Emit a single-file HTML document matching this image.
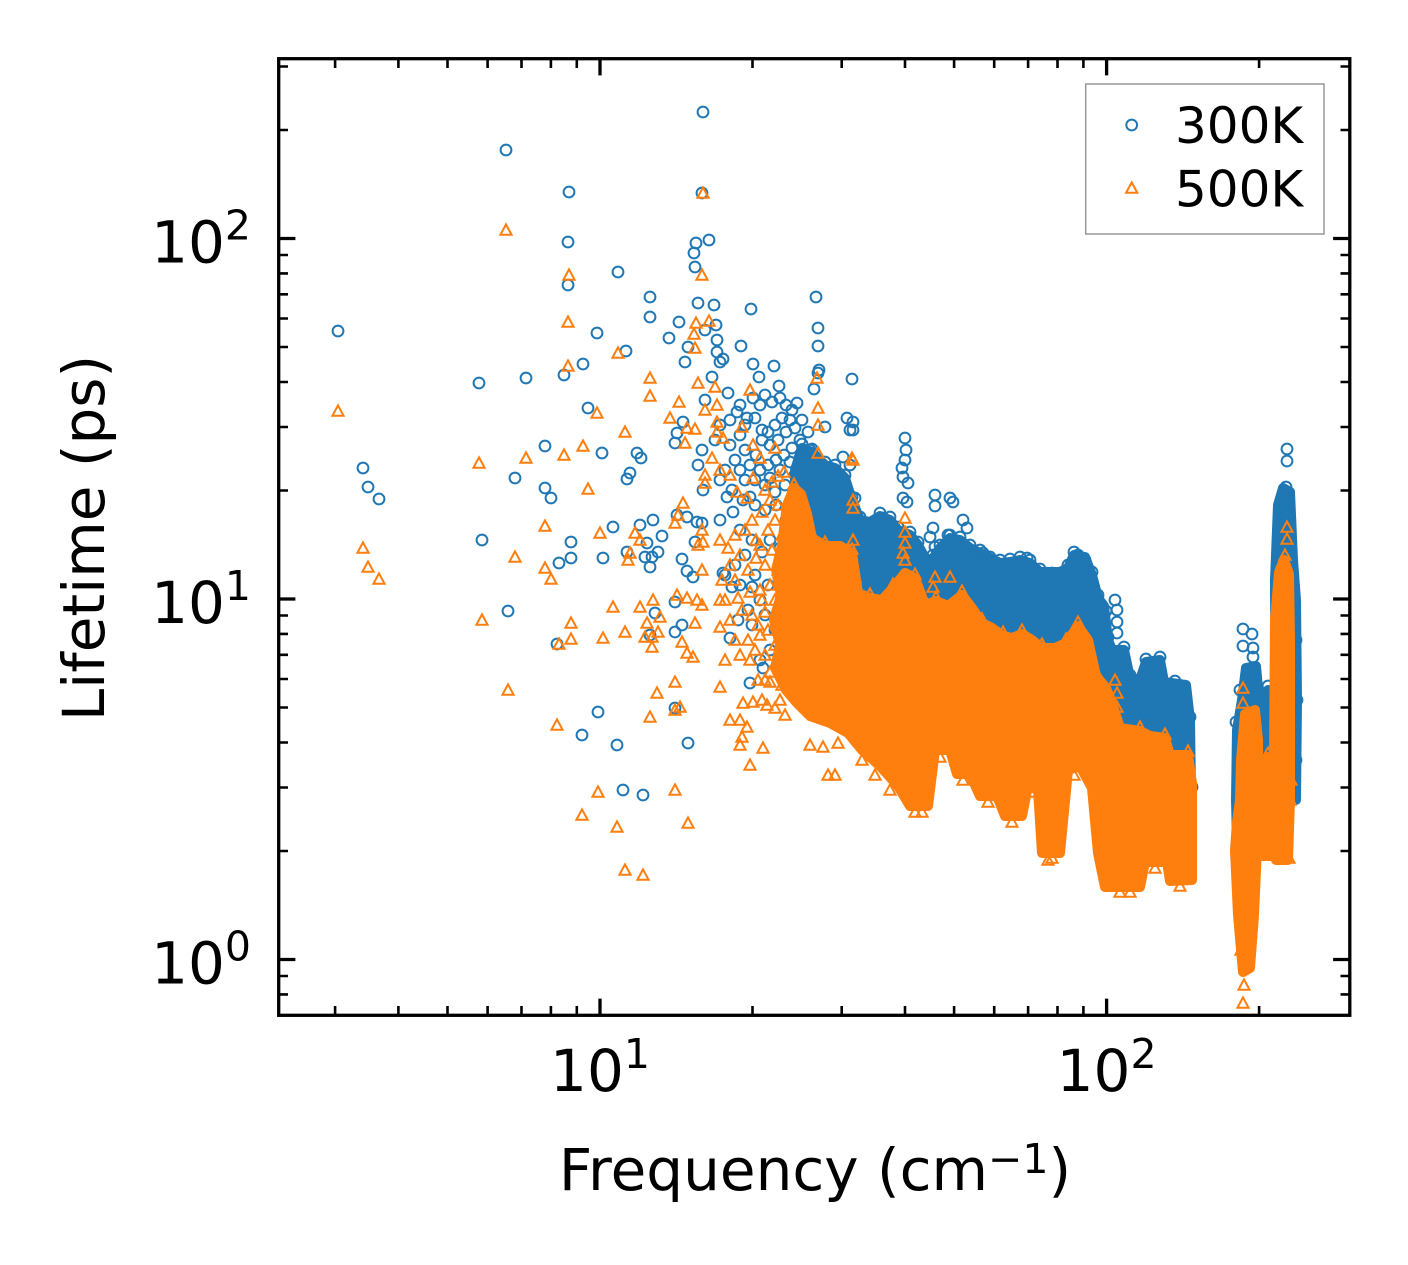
<!DOCTYPE html>
<html><head><meta charset="utf-8">
<style>html,body{margin:0;padding:0;background:#fff;}svg{display:block;}</style>
</head>
<body>
<svg width="1408" height="1265" viewBox="0 0 1408 1265" xmlns="http://www.w3.org/2000/svg" font-family="'DejaVu Sans','Liberation Sans',sans-serif">
<defs>
<clipPath id="clip"><rect x="278.7" y="58.7" width="1071.1" height="956.6"/></clipPath>
<circle id="o" r="5.4" fill="none" stroke="#1f77b4" stroke-width="2"/>
<path id="t" d="M0,-5.6L5.6,4.8H-5.6Z" fill="none" stroke="#ff7f0e" stroke-width="2"/>
</defs>
<rect width="1408" height="1265" fill="#fff"/>

<g clip-path="url(#clip)">
<!-- ===== 300K (blue) ===== -->
<g fill="#1f77b4" stroke="#1f77b4" stroke-width="10" stroke-linejoin="round">
<polygon points="795,470 802,448 812,452 825,465 835,468 845,478 852,500 860,520 870,522 880,516 890,520 898,530 910,535 918,545 925,558 932,560 940,548 950,538 960,540 970,548 980,553 990,558 1000,563 1010,562 1020,560 1030,563 1040,572 1050,572 1060,572 1068,568 1074,555 1085,557 1092,575 1098,598 1104,606 1108,640 1112,650 1124,650 1130,678 1140,680 1146,662 1160,660 1164,682 1186,685 1190,720 1191,790 1188,800 1172,790 1165,783 1150,780 1140,785 1130,786 1118,775 1100,760 1090,740 1070,700 1050,700 1030,690 1000,680 970,660 940,650 910,640 880,640 860,630 840,620 820,600 805,580 795,540"/>
<polygon points="1236,800 1237,730 1242,700 1246,668 1256,666 1259,700 1259,840 1237,840"/>
<polygon points="1263,700 1268,690 1273,692 1274,850 1263,850"/>
<polygon points="1275,580 1278,505 1283,488 1290,492 1293,560 1296,600 1297,700 1296,800 1276,800"/>
</g>
<g>
<use href="#o" x="338" y="331"/><use href="#o" x="363" y="468"/><use href="#o" x="368" y="487"/><use href="#o" x="379" y="499"/>
<use href="#o" x="479" y="383"/><use href="#o" x="482" y="540"/><use href="#o" x="506" y="150"/><use href="#o" x="508" y="611"/>
<use href="#o" x="515" y="478"/><use href="#o" x="526" y="378"/><use href="#o" x="545" y="446"/><use href="#o" x="545" y="488"/>
<use href="#o" x="551" y="498"/><use href="#o" x="557" y="644"/><use href="#o" x="559" y="563"/><use href="#o" x="564" y="375"/>
<use href="#o" x="571" y="542"/><use href="#o" x="571" y="558"/><use href="#o" x="582" y="735"/><use href="#o" x="583" y="364"/>
<use href="#o" x="588" y="408"/><use href="#o" x="602" y="453"/><use href="#o" x="603" y="558"/><use href="#o" x="569" y="192"/>
<use href="#o" x="568" y="242"/><use href="#o" x="568" y="285"/><use href="#o" x="597" y="333"/><use href="#o" x="618" y="272"/>
<use href="#o" x="626" y="351"/><use href="#o" x="650" y="297"/><use href="#o" x="650" y="317"/><use href="#o" x="669" y="338"/>
<use href="#o" x="679" y="322"/><use href="#o" x="685" y="362"/><use href="#o" x="688" y="347"/><use href="#o" x="694" y="253"/>
<use href="#o" x="695" y="267"/><use href="#o" x="696" y="243"/><use href="#o" x="698" y="303"/><use href="#o" x="702" y="193"/>
<use href="#o" x="703" y="112"/><use href="#o" x="705" y="330"/><use href="#o" x="709" y="240"/><use href="#o" x="714" y="305"/>
<use href="#o" x="716" y="325"/><use href="#o" x="717" y="340"/><use href="#o" x="717" y="352"/><use href="#o" x="720" y="362"/>
<use href="#o" x="723" y="359"/><use href="#o" x="741" y="346"/><use href="#o" x="751" y="309"/><use href="#o" x="753" y="364"/>
<use href="#o" x="774" y="366"/><use href="#o" x="816" y="297"/><use href="#o" x="818" y="328"/><use href="#o" x="818" y="346"/>
<use href="#o" x="819" y="370"/><use href="#o" x="759" y="377"/><use href="#o" x="779" y="386"/><use href="#o" x="818" y="373"/>
<use href="#o" x="814" y="389"/><use href="#o" x="852" y="379"/><use href="#o" x="712" y="377"/><use href="#o" x="728" y="393"/>
<use href="#o" x="705" y="400"/><use href="#o" x="737" y="412"/><use href="#o" x="747" y="418"/><use href="#o" x="753" y="398"/>
<use href="#o" x="772" y="402"/><use href="#o" x="677" y="433"/><use href="#o" x="675" y="443"/><use href="#o" x="683" y="422"/>
<use href="#o" x="762" y="430"/><use href="#o" x="637" y="453"/><use href="#o" x="641" y="458"/><use href="#o" x="630" y="473"/>
<use href="#o" x="627" y="479"/><use href="#o" x="702" y="450"/><use href="#o" x="698" y="465"/><use href="#o" x="703" y="490"/>
<use href="#o" x="727" y="497"/><use href="#o" x="750" y="497"/><use href="#o" x="825" y="427"/><use href="#o" x="847" y="418"/>
<use href="#o" x="853" y="422"/><use href="#o" x="850" y="430"/><use href="#o" x="843" y="457"/><use href="#o" x="613" y="527"/>
<use href="#o" x="640" y="525"/><use href="#o" x="653" y="520"/><use href="#o" x="662" y="536"/><use href="#o" x="627" y="552"/>
<use href="#o" x="647" y="543"/><use href="#o" x="645" y="557"/><use href="#o" x="652" y="557"/><use href="#o" x="658" y="552"/>
<use href="#o" x="650" y="567"/><use href="#o" x="677" y="515"/><use href="#o" x="687" y="517"/><use href="#o" x="697" y="522"/>
<use href="#o" x="702" y="523"/><use href="#o" x="720" y="520"/><use href="#o" x="733" y="512"/><use href="#o" x="682" y="559"/>
<use href="#o" x="687" y="571"/><use href="#o" x="693" y="577"/><use href="#o" x="695" y="542"/><use href="#o" x="723" y="573"/>
<use href="#o" x="732" y="587"/><use href="#o" x="752" y="587"/><use href="#o" x="655" y="613"/><use href="#o" x="675" y="602"/>
<use href="#o" x="682" y="625"/><use href="#o" x="675" y="632"/><use href="#o" x="650" y="635"/><use href="#o" x="730" y="638"/>
<use href="#o" x="763" y="668"/><use href="#o" x="750" y="683"/><use href="#o" x="598" y="712"/><use href="#o" x="675" y="708"/>
<use href="#o" x="617" y="745"/><use href="#o" x="688" y="743"/><use href="#o" x="623" y="790"/><use href="#o" x="643" y="795"/>
<!-- cluster around 720-813 -->
<use href="#o" x="765" y="395"/><use href="#o" x="780" y="398"/><use href="#o" x="786" y="405"/><use href="#o" x="792" y="410"/>
<use href="#o" x="797" y="403"/><use href="#o" x="790" y="420"/><use href="#o" x="782" y="418"/><use href="#o" x="775" y="425"/>
<use href="#o" x="768" y="432"/><use href="#o" x="762" y="440"/><use href="#o" x="770" y="445"/><use href="#o" x="778" y="440"/>
<use href="#o" x="786" y="432"/><use href="#o" x="795" y="428"/><use href="#o" x="802" y="420"/><use href="#o" x="808" y="432"/>
<use href="#o" x="800" y="440"/><use href="#o" x="792" y="448"/><use href="#o" x="784" y="455"/><use href="#o" x="776" y="460"/>
<use href="#o" x="768" y="465"/><use href="#o" x="760" y="470"/><use href="#o" x="770" y="478"/><use href="#o" x="780" y="470"/>
<use href="#o" x="790" y="462"/><use href="#o" x="800" y="458"/><use href="#o" x="810" y="450"/><use href="#o" x="805" y="470"/>
<use href="#o" x="795" y="475"/><use href="#o" x="785" y="485"/><use href="#o" x="775" y="492"/><use href="#o" x="765" y="485"/>
<use href="#o" x="756" y="455"/><use href="#o" x="750" y="465"/><use href="#o" x="745" y="450"/><use href="#o" x="755" y="480"/>
<use href="#o" x="745" y="480"/><use href="#o" x="740" y="470"/><use href="#o" x="735" y="460"/><use href="#o" x="730" y="445"/>
<use href="#o" x="740" y="435"/><use href="#o" x="725" y="470"/><use href="#o" x="720" y="480"/><use href="#o" x="732" y="490"/>
<use href="#o" x="743" y="500"/><use href="#o" x="755" y="505"/><use href="#o" x="765" y="510"/><use href="#o" x="715" y="440"/>
<use href="#o" x="720" y="425"/><use href="#o" x="730" y="420"/><use href="#o" x="745" y="425"/><use href="#o" x="755" y="418"/>
<use href="#o" x="740" y="405"/><use href="#o" x="760" y="405"/><use href="#o" x="740" y="530"/><use href="#o" x="752" y="540"/>
<use href="#o" x="762" y="552"/><use href="#o" x="770" y="540"/><use href="#o" x="745" y="555"/><use href="#o" x="735" y="565"/>
<use href="#o" x="725" y="575"/><use href="#o" x="740" y="585"/><use href="#o" x="755" y="575"/><use href="#o" x="768" y="585"/>
<use href="#o" x="760" y="600"/><use href="#o" x="748" y="610"/><use href="#o" x="738" y="620"/><use href="#o" x="752" y="625"/>
<use href="#o" x="765" y="615"/><use href="#o" x="775" y="630"/><use href="#o" x="780" y="610"/><use href="#o" x="790" y="600"/>
<use href="#o" x="785" y="585"/><use href="#o" x="790" y="650"/><use href="#o" x="770" y="650"/><use href="#o" x="760" y="660"/>
<use href="#o" x="786" y="520"/><use href="#o" x="780" y="548"/><use href="#o" x="788" y="565"/><use href="#o" x="776" y="505"/>
<!-- outliers above band -->
<use href="#o" x="853" y="430"/><use href="#o" x="850" y="465"/><use href="#o" x="855" y="498"/><use href="#o" x="905" y="438"/>
<use href="#o" x="906" y="450"/><use href="#o" x="905" y="460"/><use href="#o" x="902" y="468"/><use href="#o" x="903" y="477"/>
<use href="#o" x="908" y="483"/><use href="#o" x="903" y="498"/><use href="#o" x="907" y="502"/><use href="#o" x="935" y="495"/>
<use href="#o" x="935" y="506"/><use href="#o" x="950" y="498"/><use href="#o" x="953" y="502"/><use href="#o" x="963" y="520"/>
<use href="#o" x="967" y="528"/><use href="#o" x="948" y="535"/><use href="#o" x="930" y="537"/><use href="#o" x="933" y="528"/>
<use href="#o" x="935" y="547"/><use href="#o" x="933" y="555"/><use href="#o" x="930" y="565"/><use href="#o" x="983" y="553"/>
<use href="#o" x="990" y="557"/><use href="#o" x="1027" y="558"/><use href="#o" x="1052" y="573"/><use href="#o" x="1063" y="573"/>
<use href="#o" x="1078" y="555"/><use href="#o" x="1085" y="560"/><use href="#o" x="1115" y="600"/><use href="#o" x="1117" y="610"/>
<use href="#o" x="1117" y="622"/><use href="#o" x="1117" y="633"/><use href="#o" x="870" y="525"/><use href="#o" x="883" y="518"/>
<use href="#o" x="1100" y="604"/><use href="#o" x="1106" y="611"/>
<!-- edge texture -->
<use href="#o" x="802" y="444"/><use href="#o" x="812" y="449"/><use href="#o" x="825" y="462"/><use href="#o" x="835" y="465"/>
<use href="#o" x="845" y="475"/><use href="#o" x="852" y="497"/><use href="#o" x="860" y="517"/><use href="#o" x="880" y="513"/>
<use href="#o" x="890" y="517"/><use href="#o" x="898" y="527"/><use href="#o" x="910" y="532"/><use href="#o" x="918" y="542"/>
<use href="#o" x="940" y="545"/><use href="#o" x="950" y="535"/><use href="#o" x="960" y="537"/><use href="#o" x="970" y="545"/>
<use href="#o" x="980" y="550"/><use href="#o" x="1000" y="560"/><use href="#o" x="1010" y="559"/><use href="#o" x="1020" y="557"/>
<use href="#o" x="1030" y="560"/><use href="#o" x="1040" y="569"/><use href="#o" x="1068" y="565"/><use href="#o" x="1074" y="552"/>
<use href="#o" x="1092" y="572"/><use href="#o" x="1098" y="595"/><use href="#o" x="1108" y="637"/><use href="#o" x="1124" y="647"/>
<use href="#o" x="1130" y="675"/><use href="#o" x="1146" y="659"/><use href="#o" x="1160" y="657"/><use href="#o" x="1175" y="681"/>
<use href="#o" x="1190" y="717"/><use href="#o" x="1192" y="787"/><use href="#o" x="1190" y="800"/>
<!-- right clusters -->
<use href="#o" x="1243" y="629"/><use href="#o" x="1243" y="646"/><use href="#o" x="1252" y="634"/><use href="#o" x="1253" y="648"/>
<use href="#o" x="1253" y="657"/><use href="#o" x="1240" y="690"/><use href="#o" x="1236" y="722"/><use href="#o" x="1287" y="449"/>
<use href="#o" x="1287" y="461"/><use href="#o" x="1286" y="487"/><use href="#o" x="1288" y="495"/><use href="#o" x="1286" y="505"/>
<use href="#o" x="1288" y="515"/><use href="#o" x="1286" y="530"/><use href="#o" x="1284" y="545"/><use href="#o" x="1290" y="560"/>
<use href="#o" x="1294" y="600"/><use href="#o" x="1296" y="640"/><use href="#o" x="1297" y="700"/><use href="#o" x="1296" y="760"/>
<use href="#o" x="1293" y="790"/><use href="#o" x="1268" y="686"/>
</g>

<!-- ===== 500K (orange) ===== -->
<g fill="#ff7f0e" stroke="#ff7f0e" stroke-width="10" stroke-linejoin="round">
<polygon points="782,545 787,505 794,488 801,494 807,514 812,538 825,546 840,546 852,553 858,593 870,598 882,600 893,588 905,573 915,578 925,605 936,601 948,606 962,595 972,608 982,623 992,628 1003,636 1012,638 1022,634 1032,640 1042,648 1055,648 1066,643 1078,626 1088,640 1096,676 1106,688 1112,703 1120,728 1140,731 1150,736 1165,738 1170,755 1188,755 1192,783 1192,880 1170,881 1167,862 1145,862 1140,887 1105,887 1098,853 1092,788 1080,766 1068,770 1060,853 1042,853 1038,790 1028,786 1022,816 1005,816 997,796 980,796 970,774 957,774 950,750 935,750 928,806 910,806 898,786 880,766 862,750 848,733 830,723 810,716 797,703 786,690 775,668 780,645 774,620 781,595 776,570"/>
<polygon points="1240,800 1241,760 1245,714 1255,710 1258,740 1258,825 1254,915 1250,968 1243,972 1238,915 1235,850 1237,822"/>
<polygon points="1263,770 1268,757 1274,760 1274,856 1263,856"/>
<polygon points="1275,620 1279,572 1284,560 1289,574 1290,640 1290,800 1288,860 1276,860 1274,760"/>
</g>
<g>
<use href="#t" x="568" y="322"/><use href="#t" x="338" y="411"/><use href="#t" x="568" y="366"/><use href="#t" x="479" y="463"/>
<use href="#t" x="526" y="458"/><use href="#t" x="564" y="455"/><use href="#t" x="583" y="446"/><use href="#t" x="588" y="489"/>
<use href="#t" x="363" y="548"/><use href="#t" x="368" y="567"/><use href="#t" x="379" y="579"/><use href="#t" x="545" y="526"/>
<use href="#t" x="515" y="557"/><use href="#t" x="545" y="568"/><use href="#t" x="551" y="579"/><use href="#t" x="482" y="620"/>
<use href="#t" x="571" y="623"/><use href="#t" x="571" y="639"/><use href="#t" x="559" y="644"/><use href="#t" x="508" y="690"/>
<use href="#t" x="557" y="725"/><use href="#t" x="582" y="815"/><use href="#t" x="506" y="230"/><use href="#t" x="703" y="193"/>
<use href="#t" x="569" y="275"/><use href="#t" x="702" y="275"/><use href="#t" x="696" y="323"/><use href="#t" x="709" y="321"/>
<use href="#t" x="694" y="334"/><use href="#t" x="695" y="348"/><use href="#t" x="618" y="353"/>
<use href="#t" x="650" y="378"/><use href="#t" x="650" y="396"/><use href="#t" x="698" y="383"/><use href="#t" x="715" y="387"/>
<use href="#t" x="750" y="390"/><use href="#t" x="817" y="378"/><use href="#t" x="818" y="408"/><use href="#t" x="818" y="425"/>
<use href="#t" x="597" y="413"/><use href="#t" x="625" y="432"/><use href="#t" x="670" y="418"/><use href="#t" x="679" y="402"/>
<use href="#t" x="687" y="428"/><use href="#t" x="695" y="429"/><use href="#t" x="685" y="443"/><use href="#t" x="705" y="410"/>
<use href="#t" x="717" y="405"/><use href="#t" x="717" y="422"/><use href="#t" x="717" y="432"/><use href="#t" x="723" y="438"/>
<use href="#t" x="742" y="427"/><use href="#t" x="753" y="445"/><use href="#t" x="775" y="448"/><use href="#t" x="760" y="458"/>
<use href="#t" x="712" y="458"/><use href="#t" x="705" y="475"/><use href="#t" x="705" y="483"/><use href="#t" x="720" y="470"/>
<use href="#t" x="730" y="475"/><use href="#t" x="737" y="492"/><use href="#t" x="747" y="498"/><use href="#t" x="753" y="478"/>
<use href="#t" x="818" y="453"/><use href="#t" x="852" y="458"/><use href="#t" x="683" y="503"/><use href="#t" x="678" y="515"/>
<use href="#t" x="675" y="523"/><use href="#t" x="600" y="533"/><use href="#t" x="635" y="533"/><use href="#t" x="640" y="540"/>
<use href="#t" x="630" y="553"/><use href="#t" x="628" y="560"/><use href="#t" x="702" y="530"/><use href="#t" x="703" y="542"/>
<use href="#t" x="698" y="545"/><use href="#t" x="702" y="570"/><use href="#t" x="613" y="607"/><use href="#t" x="640" y="607"/>
<use href="#t" x="653" y="600"/><use href="#t" x="660" y="617"/><use href="#t" x="647" y="623"/><use href="#t" x="625" y="632"/>
<use href="#t" x="603" y="638"/><use href="#t" x="645" y="637"/><use href="#t" x="652" y="637"/><use href="#t" x="652" y="647"/>
<use href="#t" x="658" y="632"/><use href="#t" x="677" y="595"/><use href="#t" x="687" y="598"/><use href="#t" x="697" y="600"/>
<use href="#t" x="702" y="605"/><use href="#t" x="695" y="623"/><use href="#t" x="682" y="642"/><use href="#t" x="687" y="653"/>
<use href="#t" x="693" y="657"/><use href="#t" x="720" y="600"/><use href="#t" x="720" y="627"/><use href="#t" x="675" y="682"/>
<use href="#t" x="657" y="693"/><use href="#t" x="650" y="717"/><use href="#t" x="675" y="710"/><use href="#t" x="680" y="707"/>
<use href="#t" x="720" y="687"/><use href="#t" x="770" y="682"/><use href="#t" x="743" y="703"/><use href="#t" x="753" y="702"/>
<use href="#t" x="767" y="705"/><use href="#t" x="730" y="720"/><use href="#t" x="740" y="720"/><use href="#t" x="747" y="727"/>
<use href="#t" x="742" y="737"/><use href="#t" x="740" y="745"/><use href="#t" x="763" y="748"/><use href="#t" x="750" y="765"/>
<use href="#t" x="810" y="745"/><use href="#t" x="823" y="747"/><use href="#t" x="838" y="743"/><use href="#t" x="828" y="775"/>
<use href="#t" x="835" y="775"/><use href="#t" x="598" y="792"/><use href="#t" x="675" y="790"/><use href="#t" x="617" y="827"/>
<use href="#t" x="688" y="823"/><use href="#t" x="625" y="870"/><use href="#t" x="643" y="875"/>
<!-- textured area 715-790 -->
<use href="#t" x="720" y="540"/><use href="#t" x="728" y="548"/><use href="#t" x="735" y="535"/><use href="#t" x="745" y="530"/>
<use href="#t" x="752" y="520"/><use href="#t" x="740" y="555"/><use href="#t" x="730" y="565"/><use href="#t" x="722" y="580"/>
<use href="#t" x="735" y="580"/><use href="#t" x="748" y="570"/><use href="#t" x="756" y="558"/><use href="#t" x="725" y="600"/>
<use href="#t" x="738" y="598"/><use href="#t" x="750" y="592"/><use href="#t" x="742" y="610"/><use href="#t" x="730" y="620"/>
<use href="#t" x="752" y="615"/><use href="#t" x="735" y="640"/><use href="#t" x="748" y="640"/><use href="#t" x="740" y="655"/>
<use href="#t" x="755" y="650"/><use href="#t" x="725" y="660"/><use href="#t" x="756" y="540"/><use href="#t" x="750" y="660"/>
<use href="#t" x="760" y="635"/><use href="#t" x="762" y="600"/><use href="#t" x="765" y="680"/><use href="#t" x="780" y="700"/>
<use href="#t" x="765" y="490"/><use href="#t" x="772" y="482"/><use href="#t" x="778" y="476"/><use href="#t" x="784" y="472"/>
<use href="#t" x="770" y="500"/><use href="#t" x="778" y="505"/><use href="#t" x="762" y="512"/><use href="#t" x="775" y="520"/>
<use href="#t" x="768" y="530"/><use href="#t" x="782" y="535"/><use href="#t" x="760" y="545"/><use href="#t" x="772" y="550"/>
<use href="#t" x="765" y="565"/><use href="#t" x="778" y="570"/><use href="#t" x="770" y="585"/><use href="#t" x="760" y="590"/>
<use href="#t" x="775" y="600"/><use href="#t" x="765" y="612"/><use href="#t" x="778" y="620"/><use href="#t" x="768" y="630"/>
<use href="#t" x="758" y="625"/><use href="#t" x="775" y="645"/><use href="#t" x="765" y="655"/><use href="#t" x="778" y="660"/>
<use href="#t" x="770" y="672"/><use href="#t" x="758" y="680"/><use href="#t" x="782" y="685"/><use href="#t" x="762" y="700"/>
<use href="#t" x="775" y="708"/><use href="#t" x="785" y="715"/>
<!-- outliers near band -->
<use href="#t" x="853" y="460"/><use href="#t" x="853" y="500"/><use href="#t" x="853" y="508"/><use href="#t" x="853" y="540"/>
<use href="#t" x="855" y="577"/><use href="#t" x="855" y="590"/><use href="#t" x="905" y="518"/><use href="#t" x="905" y="532"/>
<use href="#t" x="905" y="543"/><use href="#t" x="903" y="553"/><use href="#t" x="905" y="560"/><use href="#t" x="935" y="577"/>
<use href="#t" x="933" y="587"/><use href="#t" x="950" y="577"/><use href="#t" x="963" y="600"/><use href="#t" x="963" y="608"/>
<use href="#t" x="935" y="613"/><use href="#t" x="1027" y="640"/><use href="#t" x="1115" y="680"/><use href="#t" x="1117" y="693"/>
<use href="#t" x="1117" y="707"/><use href="#t" x="1110" y="849"/>
<!-- edge texture -->
<use href="#t" x="794" y="484"/><use href="#t" x="812" y="534"/>
<use href="#t" x="825" y="542"/><use href="#t" x="852" y="549"/><use href="#t" x="870" y="594"/><use href="#t" x="893" y="584"/>
<use href="#t" x="915" y="574"/><use href="#t" x="936" y="597"/><use href="#t" x="962" y="591"/><use href="#t" x="982" y="619"/>
<use href="#t" x="1003" y="632"/><use href="#t" x="1022" y="630"/><use href="#t" x="1042" y="644"/><use href="#t" x="1066" y="639"/>
<use href="#t" x="1078" y="622"/><use href="#t" x="1096" y="672"/><use href="#t" x="1112" y="699"/><use href="#t" x="1140" y="727"/>
<use href="#t" x="1165" y="734"/><use href="#t" x="1188" y="751"/>
<use href="#t" x="862" y="760"/><use href="#t" x="875" y="775"/><use href="#t" x="890" y="790"/><use href="#t" x="915" y="812"/>
<use href="#t" x="922" y="812"/><use href="#t" x="940" y="757"/><use href="#t" x="963" y="780"/><use href="#t" x="988" y="802"/>
<use href="#t" x="1012" y="822"/><use href="#t" x="1032" y="792"/><use href="#t" x="1048" y="860"/><use href="#t" x="1052" y="858"/>
<use href="#t" x="1074" y="775"/><use href="#t" x="1120" y="892"/><use href="#t" x="1130" y="892"/><use href="#t" x="1155" y="868"/>
<use href="#t" x="1180" y="886"/>
<!-- right clusters -->
<use href="#t" x="1243" y="688"/><use href="#t" x="1243" y="703"/><use href="#t" x="1243" y="1003"/><use href="#t" x="1244" y="985"/>
<use href="#t" x="1241" y="950"/><use href="#t" x="1287" y="527"/><use href="#t" x="1287" y="539"/><use href="#t" x="1285" y="555"/>
<use href="#t" x="1291" y="780"/><use href="#t" x="1290" y="800"/><use href="#t" x="1289" y="858"/><use href="#t" x="1268" y="753"/>
</g>
</g>

<!-- Frame -->
<rect x="278.7" y="58.7" width="1071.1" height="956.6" fill="none" stroke="#000" stroke-width="3.3"/>

<!-- Major ticks -->
<path stroke="#000" stroke-width="3.3" fill="none" d="M600,1015.3V998.6M1106.6,1015.3V998.6M600,58.7V75.4M1106.6,58.7V75.4M278.7,238.5H295.4M278.7,599H295.4M278.7,959.5H295.4M1349.8,238.5H1333.1M1349.8,599H1333.1M1349.8,959.5H1333.1"/>
<!-- Minor ticks -->
<path stroke="#000" stroke-width="2.6" fill="none" d="
M335.1,1015.3V1006M398.4,1015.3V1006M447.5,1015.3V1006M487.6,1015.3V1006M521.5,1015.3V1006M550.9,1015.3V1006M576.8,1015.3V1006
M752.5,1015.3V1006M841.7,1015.3V1006M905,1015.3V1006M954.1,1015.3V1006M994.2,1015.3V1006M1028.1,1015.3V1006M1057.5,1015.3V1006M1083.4,1015.3V1006M1259.1,1015.3V1006
M335.1,58.7V68M398.4,58.7V68M447.5,58.7V68M487.6,58.7V68M521.5,58.7V68M550.9,58.7V68M576.8,58.7V68
M752.5,58.7V68M841.7,58.7V68M905,58.7V68M954.1,58.7V68M994.2,58.7V68M1028.1,58.7V68M1057.5,58.7V68M1083.4,58.7V68M1259.1,58.7V68
M278.7,66.5H288M278.7,130H288M278.7,255H288M278.7,273.4H288M278.7,294.3H288M278.7,318.5H288M278.7,347H288M278.7,382H288M278.7,427H288M278.7,490.5H288
M278.7,615.5H288M278.7,633.9H288M278.7,654.8H288M278.7,679H288M278.7,707.5H288M278.7,742.5H288M278.7,787.5H288M278.7,851H288M278.7,976H288M278.7,994.4H288
M1349.8,66.5H1340.5M1349.8,130H1340.5M1349.8,255H1340.5M1349.8,273.4H1340.5M1349.8,294.3H1340.5M1349.8,318.5H1340.5M1349.8,347H1340.5M1349.8,382H1340.5M1349.8,427H1340.5M1349.8,490.5H1340.5
M1349.8,615.5H1340.5M1349.8,633.9H1340.5M1349.8,654.8H1340.5M1349.8,679H1340.5M1349.8,707.5H1340.5M1349.8,742.5H1340.5M1349.8,787.5H1340.5M1349.8,851H1340.5M1349.8,976H1340.5M1349.8,994.4H1340.5"/>

<!-- Tick labels -->
<g font-size="58" fill="#000">
<text x="600" y="1091" text-anchor="middle">10<tspan dy="-23" font-size="41">1</tspan></text>
<text x="1106.6" y="1091" text-anchor="middle">10<tspan dy="-23" font-size="41">2</tspan></text>
<text x="251" y="262.7" text-anchor="end">10<tspan dy="-23" font-size="41">2</tspan></text>
<text x="251" y="623.2" text-anchor="end">10<tspan dy="-23" font-size="41">1</tspan></text>
<text x="251" y="983.7" text-anchor="end">10<tspan dy="-23" font-size="41">0</tspan></text>
</g>

<!-- Axis labels -->
<text x="815" y="1190" text-anchor="middle" font-size="58" fill="#000">Frequency (cm<tspan dy="-17" font-size="41">−1</tspan><tspan dy="17">)</tspan></text>
<text transform="translate(104,538) rotate(-90)" text-anchor="middle" font-size="58" fill="#000">Lifetime (ps)</text>

<!-- Legend -->
<rect x="1085.7" y="84" width="238.3" height="150" fill="#fff" fill-opacity="0.8" stroke="#999" stroke-width="1.5"/>
<use href="#o" x="1131.7" y="125"/>
<use href="#t" x="1131.7" y="188"/>
<text x="1175" y="143" font-size="50" fill="#000">300K</text>
<text x="1175" y="206.5" font-size="50" fill="#000">500K</text>
</svg>
</body></html>
